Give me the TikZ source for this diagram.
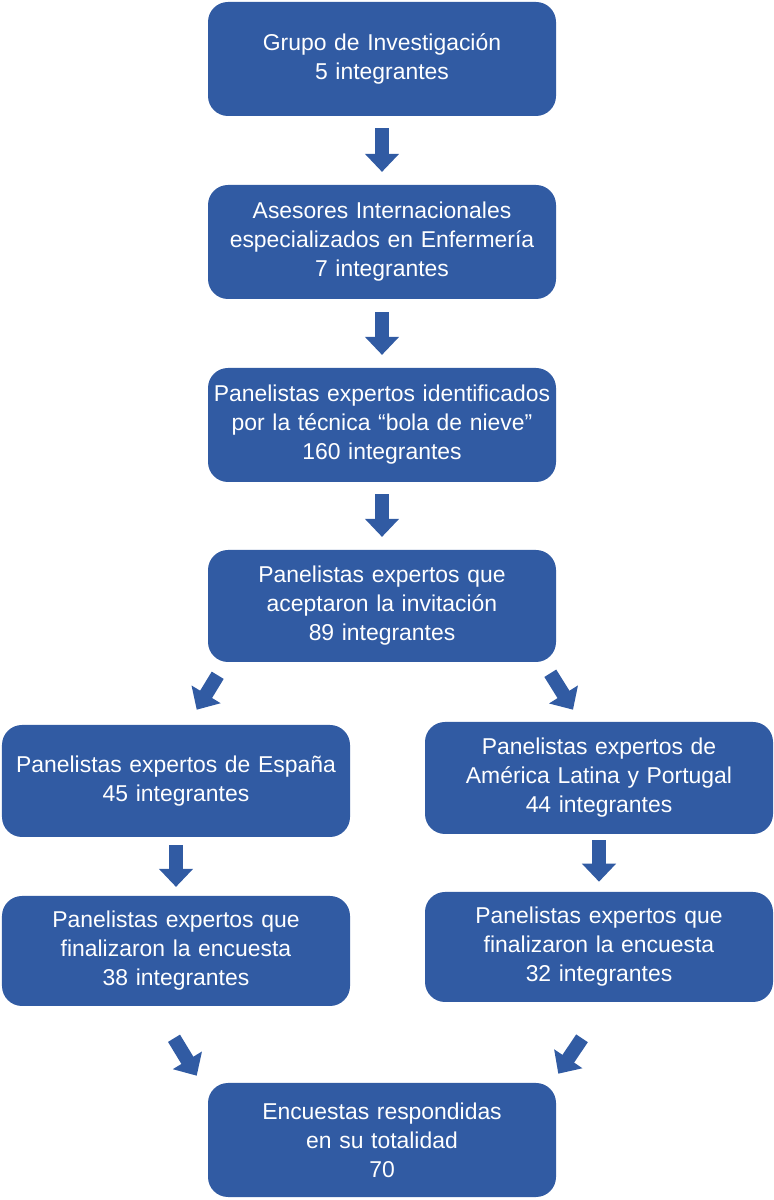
\documentclass[tikz,border=0pt]{standalone}
\usepackage{fontspec}
\setmainfont{Liberation Sans}
\usepackage{tikz}
\usetikzlibrary{arrows.meta, calc}
\definecolor{flowBlue}{RGB}{49,91,163}
\tikzset{
  caja/.style={fill=flowBlue, rounded corners=0.5cm, minimum width=8.7cm, minimum height=2.8cm,
    text width=8.6cm, inner sep=0.05cm, align=center, text=white, font=\fontsize{16.3}{20.6}\selectfont},
  flecha/.style={line width=0.35cm, flowBlue, -{Triangle[width=0.825cm, length=0.45cm]}}
}
\begin{document}
\begin{tikzpicture}
  \useasboundingbox (0,0) rectangle (19.35,30);

  \node[caja, minimum height=2.85cm] (grupo) at (9.55, 28.525) {Grupo de Investigación\\5 integrantes};
  \node[caja, minimum height=2.85cm] (asesores) at (9.55, 23.95) {Asesores Internacionales\\especializados en Enfermería\\7 integrantes};
  \node[caja, minimum height=2.85cm] (bola) at (9.55, 19.375) {Panelistas expertos identificados\\por la técnica “bola de nieve”\\160 integrantes};
  \node[caja] (acept) at (9.55, 14.85) {Panelistas expertos que\\aceptaron la invitación\\89 integrantes};
  \node[caja] (espana) at (4.4, 10.475) {Panelistas expertos de España\\45 integrantes};
  \node[caja] (latam) at (14.975, 10.55) {Panelistas expertos de\\América Latina y Portugal\\44 integrantes};
  \node[caja, minimum height=2.75cm] (finEsp) at (4.4, 6.225) {Panelistas expertos que\\finalizaron la encuesta\\38 integrantes};
  \node[caja, minimum height=2.75cm] (finLat) at (14.975, 6.325) {Panelistas expertos que\\finalizaron la encuesta\\32 integrantes};
  \node[caja, minimum height=2.85cm] (total) at (9.55, 1.5) {Encuestas respondidas\\en su totalidad\\70};

  \draw[flecha] ([yshift=-0.3cm]grupo.south) -- ([yshift=0.32cm]asesores.north);
  \draw[flecha] ([yshift=-0.32cm]asesores.south) -- ([yshift=0.32cm]bola.north);
  \draw[flecha] ([yshift=-0.3cm]bola.south) -- ([yshift=0.32cm]acept.north);
  \draw[flecha] ([shift={(0.25,-0.325)}]acept.south west) -- ([shift={(4.875,0.375)}]espana.north west);
  \draw[flecha] ([shift={(-0.15,-0.275)}]acept.south east) -- ([shift={(-0.65,0.3)}]latam.north);
  \draw[flecha] ([yshift=-0.2cm]espana.south) -- ([yshift=0.22cm]finEsp.north);
  \draw[flecha] ([yshift=-0.15cm]latam.south) -- ([yshift=0.25cm]finLat.north);
  \draw[flecha] ([shift={(-0.05,-0.8)}]finEsp.south) -- ([shift={(-0.275,0.175)}]total.north west);
  \draw[flecha] ([shift={(-0.425,-0.9)}]finLat.south) -- ([shift={(0.05,0.225)}]total.north east);
\end{tikzpicture}
\end{document}
